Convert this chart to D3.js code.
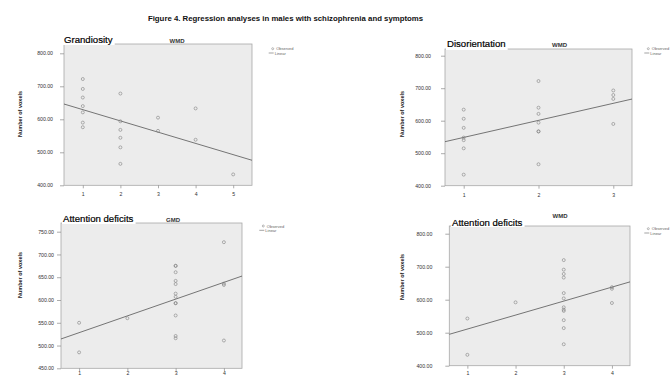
<!DOCTYPE html>
<html>
<head>
<meta charset="utf-8">
<script src="https://cdn.jsdelivr.net/npm/d3@7"></script>
<style>
  body { margin: 0; background: #fff; }
  text { font-family: "Liberation Sans", Arial, sans-serif; }
</style>
</head>
<body>
<script>
// data: symptom level (x) and number of voxels (y)

const grandX = [1, 1, 1, 1, 1, 1, 1, 2, 2, 2, 2, 2, 2, 3, 3, 4, 4, 5];
const grandY = [722, 692, 666, 640, 621, 590, 576, 678, 594, 568, 544, 515, 465, 605, 565, 633, 538, 433];

const disoX = [1, 1, 1, 1, 1, 1, 1, 2, 2, 2, 2, 2, 2, 2, 3, 3, 3, 3];
const disoY = [634, 606, 578, 548, 540, 515, 434, 722, 640, 621, 594, 567, 567, 466, 693, 679, 667, 590];

const attnGmdX = [1, 1, 2, 3, 3, 3, 3, 3, 3, 3, 3, 3, 3, 3, 3, 4, 4, 4, 4];
const attnGmdY = [550, 485, 560, 675, 675, 661, 642, 635, 614, 607, 593, 593, 566, 521, 516, 727, 636, 633, 511];

const attnWmdX = [1, 1, 2, 3, 3, 3, 3, 3, 3, 3, 3, 3, 3, 3, 3, 4, 4, 4];
const attnWmdY = [543, 433, 592, 720, 691, 678, 667, 620, 604, 577, 570, 566, 538, 514, 465, 638, 633, 590];

const yTicksA = [400, 500, 600, 700, 800];
const yTicksB = [450, 500, 550, 600, 650, 700, 750];
const xTicks5 = [1, 2, 3, 4, 5];
const xTicks4 = [1, 2, 3, 4];
const xTicks3 = [1, 2, 3];

const titles = ["Grandiosity", "Disorientation", "Attention deficits", "Attention deficits"];
const methods = ["WMD", "WMD", "GMD", "WMD"];

const w = 670;
const h = 378;

// layout of each panel (pixels), data hooked in by index
const panels = [
  {xs: grandX, ys: grandY, xt: xTicks5, yt: yTicksA, xDom: [0.5, 5.5],
   left: 64, right: 252, top: 44, bottom: 185.3, yLo: 400, yHi: 800, yHiPx: 53.3,
   titleX: 64, titleY: 43, methX: 177, methY: 42.5, labX: 20, labY: 114, yPad: 7, xPad: 4,
   legX: 272.7, legY: 48.7},
  {xs: disoX, ys: disoY, xt: xTicks3, yt: yTicksA, xDom: [0.75, 3.25],
   left: 445, right: 632, top: 49, bottom: 185.7, yLo: 400, yHi: 800, yHiPx: 55.7,
   titleX: 447, titleY: 47, methX: 559.5, methY: 46.5, labX: 401.7, labY: 114, yPad: 10, xPad: 5,
   legX: 648.3, legY: 48.7},
  {xs: attnGmdX, ys: attnGmdY, xt: xTicks4, yt: yTicksB, xDom: [0.625, 4.375],
   left: 61, right: 242, top: 223, bottom: 368.3, yLo: 450, yHi: 750, yHiPx: 231.7,
   titleX: 63, titleY: 222, methX: 173, methY: 221.5, labX: 20, labY: 275, yPad: 3, xPad: 0.5,
   legX: 263.3, legY: 226},
  {xs: attnWmdX, ys: attnWmdY, xt: xTicks4, yt: yTicksA, xDom: [0.625, 4.375],
   left: 449.3, right: 630, top: 226, bottom: 365.7, yLo: 400, yHi: 800, yHiPx: 233.7,
   titleX: 452, titleY: 226, methX: 560, methY: 218, labX: 401.7, labY: 277, yPad: 13, xPad: 3,
   legX: 648.3, legY: 228.7}
];

// least squares line, same as the "Linear" fit in the figure
function fit(xs, ys) {
  const mx = d3.mean(xs), my = d3.mean(ys);
  let sxy = 0, sxx = 0;
  xs.forEach((x, i) => {
    sxy += (x - mx) * (ys[i] - my);
    sxx += (x - mx) * (x - mx);
  });
  const b = sxy / sxx;
  return {a: my - b * mx, b: b};
}

const svg = d3.select("body")
  .append("svg")
    .attr("width", w)
    .attr("height", h);

svg.append("text")
    .attr("x", 285.5)
    .attr("y", 21)
    .attr("text-anchor", "middle")
    .attr("font-size", "7.8px")
    .attr("font-weight", "bold")
    .attr("fill", "#111")
    .text("Figure 4. Regression analyses in males with schizophrenia and symptoms");

panels.forEach((p, i) => {
  const x = d3.scaleLinear()
      .domain(p.xDom)
      .range([p.left, p.right]);

  const y = d3.scaleLinear()
      .domain([p.yLo, p.yHi])
      .range([p.bottom, p.yHiPx]);

  const g = svg.append("g");

  // plot frame
  g.append("rect")
      .attr("x", p.left)
      .attr("y", p.top)
      .attr("width", p.right - p.left)
      .attr("height", p.bottom - p.top)
      .attr("fill", "#ececec")
      .attr("stroke", "#a8a8a8")
      .attr("stroke-width", 0.8);

  // axes
  const yAxis = g.append("g")
      .attr("transform", `translate(${p.left},0)`)
      .call(d3.axisLeft(y).tickValues(p.yt).tickFormat(d3.format(".2f"))
        .tickSize(4).tickPadding(p.yPad));

  const xAxis = g.append("g")
      .attr("transform", `translate(0,${p.bottom})`)
      .call(d3.axisBottom(x).tickValues(p.xt).tickFormat(d3.format("d"))
        .tickSize(3).tickPadding(p.xPad));

  [yAxis, xAxis].forEach(a => {
    a.select(".domain").remove();
    a.selectAll(".tick line").attr("stroke", "#888").attr("stroke-width", 0.7);
    a.selectAll(".tick text")
        .attr("font-size", "5.2px")
        .attr("font-family", "Liberation Sans, Arial, sans-serif")
        .attr("fill", "#333");
  });

  // fit line
  const f = fit(p.xs, p.ys);
  g.append("line")
      .attr("x1", x(p.xDom[0]))
      .attr("y1", y(f.a + f.b * p.xDom[0]))
      .attr("x2", x(p.xDom[1]))
      .attr("y2", y(f.a + f.b * p.xDom[1]))
      .attr("stroke", "#555")
      .attr("stroke-width", 0.8);

  // observed points
  g.selectAll("circle.pt")
    .data(p.xs.map((d, k) => ({x: d, y: p.ys[k]})))
    .enter().append("circle")
      .attr("class", "pt")
      .attr("cx", d => x(d.x))
      .attr("cy", d => y(d.y))
      .attr("r", 1.5)
      .attr("fill", "none")
      .attr("stroke", "#808080")
      .attr("stroke-width", 0.6);

  // panel title on white patch over the frame top
  const title = g.append("text")
      .attr("x", p.titleX)
      .attr("y", p.titleY)
      .attr("font-size", "9.6px")
      .attr("fill", "#000")
      .attr("stroke", "#000")
      .attr("stroke-width", 0.2)
      .text(titles[i]);
  const bb = title.node().getBBox();
  g.insert("rect", () => title.node())
      .attr("x", bb.x - 1)
      .attr("y", bb.y)
      .attr("width", bb.width + 3)
      .attr("height", p.top + 1 - bb.y)
      .attr("fill", "#fff");

  g.append("text")
      .attr("x", p.methX)
      .attr("y", p.methY)
      .attr("text-anchor", "middle")
      .attr("font-size", "6px")
      .attr("font-weight", "bold")
      .attr("fill", "#333")
      .text(methods[i]);

  g.append("text")
      .attr("transform", `translate(${p.labX},${p.labY}) rotate(-90)`)
      .attr("text-anchor", "middle")
      .attr("dominant-baseline", "central")
      .attr("font-size", "5.5px")
      .attr("font-weight", "bold")
      .attr("fill", "#222")
      .text("Number of voxels");

  // legend
  g.append("circle")
      .attr("cx", p.legX)
      .attr("cy", p.legY)
      .attr("r", 1)
      .attr("fill", "none")
      .attr("stroke", "#777")
      .attr("stroke-width", 0.5);
  g.append("text")
      .attr("x", p.legX + 3.5)
      .attr("y", p.legY)
      .attr("dominant-baseline", "central")
      .attr("font-size", "4px")
      .attr("fill", "#666")
      .text("Observed");
  g.append("line")
      .attr("x1", p.legX - 4)
      .attr("x2", p.legX + 1)
      .attr("y1", p.legY + 4.3)
      .attr("y2", p.legY + 4.3)
      .attr("stroke", "#666")
      .attr("stroke-width", 0.6);
  g.append("text")
      .attr("x", p.legX + 2)
      .attr("y", p.legY + 4.3)
      .attr("dominant-baseline", "central")
      .attr("font-size", "4px")
      .attr("fill", "#666")
      .text("Linear");
});
</script>
</body>
</html>
